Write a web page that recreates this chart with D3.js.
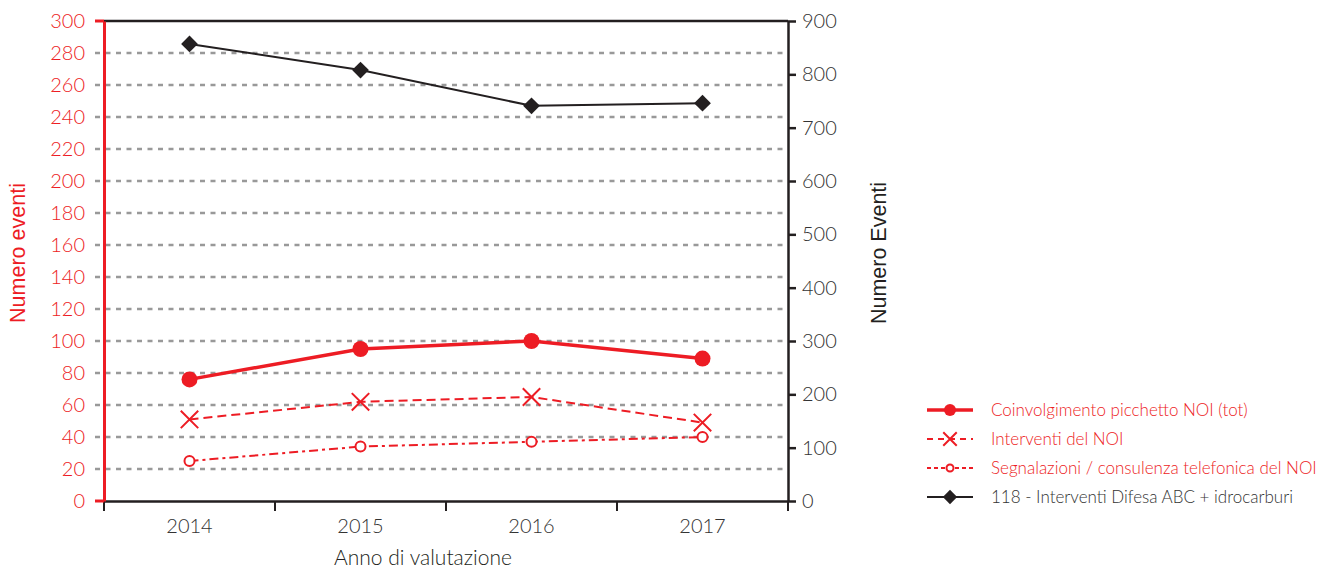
<!DOCTYPE html>
<html><head><meta charset="utf-8">
<script src="https://cdn.jsdelivr.net/npm/d3@7"></script>
<style>body{margin:0;background:#fff;} svg{display:block;font-family:Lato,"Open Sans",sans-serif;font-weight:300;}</style>
</head><body>
<svg id="c" width="1322" height="568"></svg>
<script>
const years = ["2014","2015","2016","2017"];
const coinvolgimento = [76, 95, 100, 89];
const interventiNOI = [51, 62, 65, 49];
const segnalazioni = [25, 34, 37, 40];
const difesaABC = [857, 808, 741, 746];
const leftTicks = d3.range(0, 301, 20);
const rightTicks = d3.range(0, 901, 100);
const legendLabels = ["Coinvolgimento picchetto NOI (tot)", "Interventi del NOI", "Segnalazioni / consulenza telefonica del NOI", "118 - Interventi Difesa ABC + idrocarburi"];

const RED = "#ed1c24", DARK = "#231f20", TXT = "#333";
const svg = d3.select("#c");
const L = 104, R = 788, T = 21, B = 501;
const x = d3.scaleBand().domain(years).range([L, R]);
const yL = d3.scaleLinear().domain([0, 300]).range([B, T]);
const yR = d3.scaleLinear().domain([0, 900]).range([B, T]);
const cx = d => x(d) + x.bandwidth() / 2;

// gridlines
svg.append("g").selectAll("line").data(leftTicks.filter(v => v > 0 && v < 300)).join("line")
  .attr("x1", 95).attr("x2", R).attr("y1", d => yL(d)).attr("y2", d => yL(d))
  .attr("stroke", "#999").attr("stroke-width", 2.5).attr("stroke-dasharray", "5,5.5");

// top border
svg.append("line").attr("x1", L).attr("x2", R).attr("y1", T).attr("y2", T).attr("stroke", DARK).attr("stroke-width", 2.5);

// x axis
const xAxis = svg.append("g").attr("transform", `translate(0,${B})`)
  .call(d3.axisBottom(x).tickSize(0).tickPadding(18));
xAxis.select(".domain").attr("stroke", DARK).attr("stroke-width", 2.5);
xAxis.selectAll("text").attr("font-size", 20).attr("fill", TXT).attr("font-family", "Lato").attr("font-weight", 300);
svg.append("g").selectAll("line").data(d3.range(5)).join("line")
  .attr("x1", i => L + i * x.bandwidth()).attr("x2", i => L + i * x.bandwidth())
  .attr("y1", B).attr("y2", B + 10).attr("stroke", DARK).attr("stroke-width", 2);

// right axis
const rAxis = svg.append("g").attr("transform", `translate(${R},0)`)
  .call(d3.axisRight(yR).tickValues(rightTicks).tickSize(8).tickPadding(6).tickSizeOuter(0));
rAxis.select(".domain").attr("stroke", DARK).attr("stroke-width", 2.5);
rAxis.selectAll(".tick line").attr("stroke", DARK).attr("stroke-width", 2.5);
rAxis.selectAll("text").attr("font-size", 20).attr("fill", TXT).attr("font-family", "Lato").attr("font-weight", 300);

// left axis
const lAxis = svg.append("g").attr("transform", `translate(${L},0)`)
  .call(d3.axisLeft(yL).tickValues(leftTicks).tickSize(0).tickPadding(19).tickSizeOuter(0));
lAxis.select(".domain").attr("stroke", RED).attr("stroke-width", 3);
lAxis.selectAll("text").attr("font-size", 20).attr("fill", RED).attr("font-family", "Lato").attr("font-weight", 300);
svg.append("g").selectAll("line").data([0, 300]).join("line")
  .attr("x1", 95).attr("x2", L).attr("y1", d => yL(d)).attr("y2", d => yL(d))
  .attr("stroke", RED).attr("stroke-width", 3);

// axis titles
svg.append("text").attr("transform", "translate(25,253) rotate(-90)").attr("text-anchor", "middle")
  .attr("font-family", "Liberation Sans, Arial, sans-serif").attr("font-weight", 400)
  .attr("font-size", 21.5).attr("fill", RED).text("Numero eventi");
svg.append("text").attr("transform", "translate(886,253) rotate(-90)").attr("text-anchor", "middle")
  .attr("font-family", "Liberation Sans, Arial, sans-serif").attr("font-weight", 400)
  .attr("font-size", 21.5).attr("fill", DARK).text("Numero Eventi");
svg.append("text").attr("x", 423).attr("y", 565).attr("text-anchor", "middle")
  .attr("font-size", 21).attr("fill", DARK).text("Anno di valutazione");

// series
const lineL = d3.line().x((d, i) => cx(years[i])).y(d => yL(d));
const lineR = d3.line().x((d, i) => cx(years[i])).y(d => yR(d));

svg.append("path").attr("d", lineR(difesaABC)).attr("fill", "none").attr("stroke", DARK).attr("stroke-width", 2);
svg.append("g").selectAll("path").data(difesaABC).join("path")
  .attr("d", d3.symbol(d3.symbolDiamond2, 180)())
  .attr("transform", (d, i) => `translate(${cx(years[i])},${yR(d)})`).attr("fill", DARK);

svg.append("path").attr("d", lineL(segnalazioni)).attr("fill", "none").attr("stroke", RED).attr("stroke-width", 2).attr("stroke-dasharray", "9,4,3,4");
svg.append("g").selectAll("circle").data(segnalazioni).join("circle")
  .attr("cx", (d, i) => cx(years[i])).attr("cy", d => yL(d)).attr("r", 5)
  .attr("fill", "#fff").attr("stroke", RED).attr("stroke-width", 2);

svg.append("path").attr("d", lineL(interventiNOI)).attr("fill", "none").attr("stroke", RED).attr("stroke-width", 2).attr("stroke-dasharray", "9,5");
svg.append("g").selectAll("path").data(interventiNOI).join("path")
  .attr("d", d3.symbol(d3.symbolX, 200)())
  .attr("transform", (d, i) => `translate(${cx(years[i])},${yL(d)})`).attr("stroke", RED).attr("stroke-width", 2).attr("fill", "none");

svg.append("path").attr("d", lineL(coinvolgimento)).attr("fill", "none").attr("stroke", RED).attr("stroke-width", 3.5);
svg.append("g").selectAll("circle").data(coinvolgimento).join("circle")
  .attr("cx", (d, i) => cx(years[i])).attr("cy", d => yL(d)).attr("r", 8).attr("fill", RED);

// legend
const lg = svg.append("g");
const rows = [0, 1, 2, 3].map(i => ({i, y: 410 + i * 29}));
rows.forEach(({i, y}) => {
  const col = i < 3 ? RED : DARK;
  const g = lg.append("g");
  const dash = [null, "6,5", "4,3", null][i];
  g.append("line").attr("x1", 927).attr("x2", 973).attr("y1", y).attr("y2", y)
    .attr("stroke", col).attr("stroke-width", i === 0 ? 3.5 : 2).attr("stroke-dasharray", dash);
  if (i === 0) g.append("circle").attr("cx", 950).attr("cy", y).attr("r", 6).attr("fill", RED);
  if (i === 1) g.append("path").attr("d", d3.symbol(d3.symbolX, 120)()).attr("transform", `translate(950,${y})`).attr("stroke", RED).attr("stroke-width", 2).attr("fill", "#fff");
  if (i === 2) g.append("circle").attr("cx", 950).attr("cy", y).attr("r", 3.5).attr("fill", "#fff").attr("stroke", RED).attr("stroke-width", 2);
  if (i === 3) g.append("path").attr("d", d3.symbol(d3.symbolDiamond2, 130)()).attr("transform", `translate(950,${y})`).attr("fill", DARK);
  g.append("text").attr("x", 991).attr("y", y).attr("dy", "0.35em").attr("font-size", 17)
    .attr("fill", i < 3 ? RED : TXT).text(legendLabels[i]);
});
</script>
</body></html>
